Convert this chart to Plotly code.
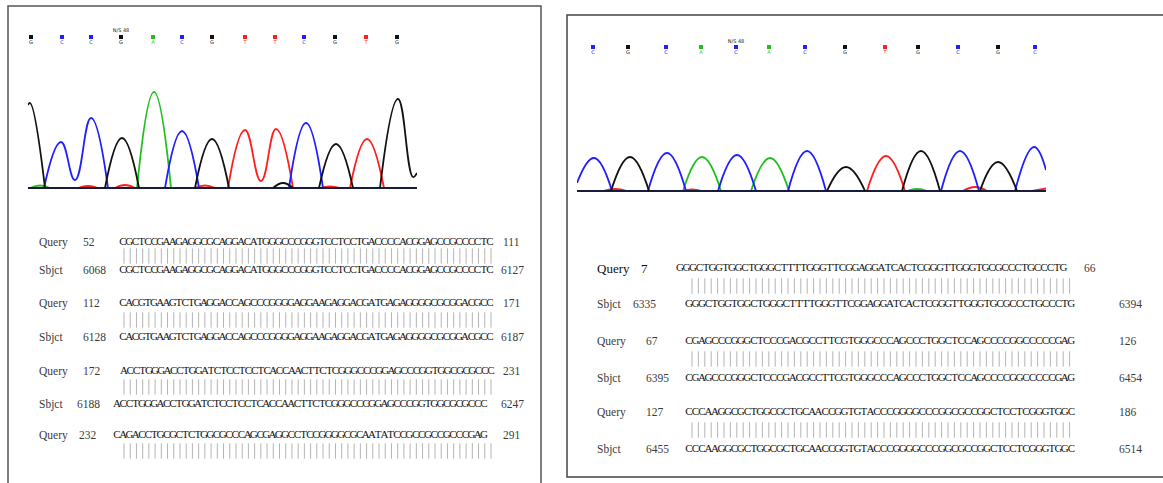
import plotly.graph_objects as go

W, H = 1163, 483

# ---------------- data ----------------
# base calls above the traces
left_calls = list("GCCGACGTTCGTG")
left_call_scan = [3, 34, 63, 93, 125, 154, 184, 217, 247, 276, 307, 338, 369]
right_calls = list("CGCACACGTGCGC")
right_call_scan = [16, 51, 89, 124, 159, 192, 228, 268, 308, 341, 381, 421, 458]

# left chromatogram, per channel: segments of (scan, intensity)
left_G_scan = [[0, 2, 17], [77, 94, 111], [167, 184, 201], [291, 308, 325], [352, 370, 385, 389], [245, 255, 265]]
left_G_int = [[830, 850, 0], [0, 500, 0], [0, 490, 0], [0, 440, 0], [0, 890, 110, 150], [0, 50, 0]]
left_C_scan = [[16, 33, 47, 63, 80], [137, 154, 171], [261, 278, 295]]
left_C_int = [[0, 460, 80, 700, 0], [0, 570, 0], [0, 650, 0]]
left_A_scan = [[109, 126, 143], [2, 12, 22]]
left_A_int = [[0, 960, 0], [0, 25, 0]]
left_T_scan = [[200, 217, 233, 248, 265], [322, 339, 356], [50, 60, 70], [87, 97, 107], [167, 177, 187], [292, 302, 312]]
left_T_int = [[0, 580, 70, 590, 0], [0, 490, 0], [0, 20, 0], [0, 30, 0], [0, 25, 0], [0, 15, 0]]

# right chromatogram
right_C_scan = [[0, 17, 35], [71, 90, 109], [141, 160, 179], [211, 230, 249], [364, 383, 402], [438, 457, 469]]
right_C_int = [[80, 330, 0], [0, 380, 0], [0, 360, 0], [0, 400, 0], [0, 400, 0], [0, 440, 210]]
right_G_scan = [[34, 53, 72], [250, 269, 288], [325, 344, 363], [403, 421, 440]]
right_G_int = [[0, 340, 0], [0, 240, 0], [0, 400, 0], [0, 290, 0]]
right_A_scan = [[106, 125, 144], [174, 193, 212], [330, 340, 350]]
right_A_int = [[0, 340, 0], [0, 330, 0], [0, 20, 0]]
right_T_scan = [[290, 309, 328], [26, 38, 50], [105, 115, 125], [386, 398, 410], [455, 469]]
right_T_int = [[0, 350, 0], [0, 20, 0], [0, 15, 0], [0, 40, 0], [0, 25]]

# alignment text
left_query_seqs = [
    "CGCTCCGAAGAGGCGCAGGACATGGGCCCGGGTCCTCCTGACCCCACGGAGCCGCCCCTC",
    "CACGTGAAGTCTGAGGACCAGCCCGGGGAGGAAGAGGACGATGAGAGGGGCGCGGACGCC",
    "ACCTGGGACCTGGATCTCCTCCTCACCAACTTCTCGGGCCCGGAGCCCGGTGGCGCGCCC",
    "CAGACCTGCGCTCTGGCGCCCAGCGAGGCCTCCGGGGCGCAATATCCGCCGCCGCCCGAG",
]
left_query_start = [52, 112, 172, 232]
left_query_end = [111, 171, 231, 291]
left_sbjct_start = [6068, 6128, 6188]
left_sbjct_end = [6127, 6187, 6247]

right_query_seqs = [
    "GGGCTGGTGGCTGGGCTTTTGGGTTCGGAGGATCACTCGGGTTGGGTGCGCCCTGCCCTG",
    "CGAGCCCGGGCTCCCGACGCCTTCGTGGGCCCAGCCCTGGCTCCAGCCCCGGCCCCCGAG",
    "CCCAAGGCGCTGGCGCTGCAACCGGTGTACCCGGGGCCCGGCGCCGGCTCCTCGGGTGGC",
]
right_query_start = [7, 67, 127]
right_query_end = [66, 126, 186]
right_sbjct_start = [6335, 6395, 6455]
right_sbjct_end = [6394, 6454, 6514]

# ---------------- styling ----------------
COL = {"G": "#111111", "C": "#1f1fff", "A": "#1fbf1f", "T": "#ff1f1f"}
SEQ_FONT = "Liberation Serif"

fig = go.Figure()


def segs(scans, ints):
    xs, ys = [], []
    for s, v in zip(scans, ints):
        xs += s + [None]
        ys += v + [None]
    return xs, ys


def add_channel(scans, ints, color, xa, ya, xmax):
    fig.add_trace(go.Scatter(x=[0, xmax], y=[0, 0], mode="lines", line=dict(color=color, width=1.3),
                             xaxis=xa, yaxis=ya, hoverinfo="skip", showlegend=False))
    xs, ys = segs(scans, ints)
    fig.add_trace(go.Scatter(x=xs, y=ys, mode="lines", line=dict(color=color, width=1.8, shape="spline", smoothing=1.3),
                             xaxis=xa, yaxis=ya, hoverinfo="skip", showlegend=False, connectgaps=False))


for base, sc, it in [("T", left_T_scan, left_T_int), ("A", left_A_scan, left_A_int),
                     ("C", left_C_scan, left_C_int), ("G", left_G_scan, left_G_int)]:
    add_channel(sc, it, COL[base], "x2", "y2", 389)
for base, sc, it in [("T", right_T_scan, right_T_int), ("A", right_A_scan, right_A_int),
                     ("C", right_C_scan, right_C_int), ("G", right_G_scan, right_G_int)]:
    add_channel(sc, it, COL[base], "x3", "y3", 469)


def add_calls(calls, scans, xa, ya, y_mark, y_letter, y_note, note_idx):
    cols = [COL[c] for c in calls]
    fig.add_trace(go.Scatter(x=scans, y=[y_mark] * len(scans), mode="markers",
                             marker=dict(symbol="square", size=4, color=cols, line=dict(width=0)),
                             xaxis=xa, yaxis=ya, cliponaxis=False, hoverinfo="skip", showlegend=False))
    fig.add_trace(go.Scatter(x=scans, y=[y_letter] * len(scans), mode="text", text=calls,
                             textfont=dict(size=5, color=cols, family="DejaVu Sans"),
                             xaxis=xa, yaxis=ya, cliponaxis=False, hoverinfo="skip", showlegend=False))
    fig.add_trace(go.Scatter(x=[scans[note_idx]], y=[y_note], mode="text", text=["N/S 48"],
                             textfont=dict(size=5, color="#222", family="DejaVu Sans"),
                             xaxis=xa, yaxis=ya, cliponaxis=False, hoverinfo="skip", showlegend=False))


add_calls(left_calls, left_call_scan, "x2", "y2", 1510, 1455, 1570, 3)
add_calls(right_calls, right_call_scan, "x3", "y3", 1440, 1385, 1490, 4)

# ---------------- alignment text ----------------
seq_pts = {"x": [], "y": [], "t": []}


def put_seq(x0, y, s, pitch):
    for i, ch in enumerate(s):
        seq_pts["x"].append(x0 + i * pitch)
        seq_pts["y"].append(y)
        seq_pts["t"].append(ch)


bars = {"x": [], "y": []}


def put_bars(x0, y, n, pitch):
    for i in range(n):
        bars["x"].append(x0 + i * pitch)
        bars["y"].append(y)


labels = []


def put_label(x, y, s, size=11.5, color="#3a3a3a"):
    labels.append((x, y, s, size, color))


LP = 6.22
left_rows_y_q = [242, 303, 371, 435]
left_rows_y_s = [270, 337, 404]
left_bar_y = [256, 320, 387, 451]
left_num_x_q = [82, 82, 82, 78]
left_seq_x_q = [123, 123, 124, 117]
left_num_x_s = [82, 82, 76]
left_seq_x_s = [123, 123, 117]

for i, seq in enumerate(left_query_seqs):
    put_label(38, left_rows_y_q[i], "Query")
    put_label(left_num_x_q[i], left_rows_y_q[i], str(left_query_start[i]))
    put_seq(left_seq_x_q[i], left_rows_y_q[i], seq, LP)
    put_label(502, left_rows_y_q[i], str(left_query_end[i]))
    put_bars(124, left_bar_y[i], len(seq), 6.22)
    if i < len(left_sbjct_start):
        put_label(38, left_rows_y_s[i], "Sbjct")
        put_label(left_num_x_s[i], left_rows_y_s[i], str(left_sbjct_start[i]))
        put_seq(left_seq_x_s[i], left_rows_y_s[i], seq, LP)
        put_label(500, left_rows_y_s[i], str(left_sbjct_end[i]))

RP = 6.48
right_rows_y_q = [268, 341, 412]
right_rows_y_s = [304, 378, 449]
right_bar_y = [286, 359, 430]
right_num_x_s = [632, 645, 645]
for i, seq in enumerate(right_query_seqs):
    if i == 0:
        put_label(596, right_rows_y_q[i], "Query", 13, "#111")
        put_label(640, right_rows_y_q[i], str(right_query_start[i]), 13, "#111")
        put_seq(680, right_rows_y_q[i], seq, 6.5)
        put_label(1083, right_rows_y_q[i], str(right_query_end[i]))
    else:
        put_label(596, right_rows_y_q[i], "Query")
        put_label(645, right_rows_y_q[i], str(right_query_start[i]))
        put_seq(689, right_rows_y_q[i], seq, RP)
        put_label(1118, right_rows_y_q[i], str(right_query_end[i]))
    put_bars(692, right_bar_y[i], len(seq), 6.4)
    put_label(596, right_rows_y_s[i], "Sbjct")
    put_label(right_num_x_s[i], right_rows_y_s[i], str(right_sbjct_start[i]))
    put_seq(689, right_rows_y_s[i], seq, RP)
    put_label(1118, right_rows_y_s[i], str(right_sbjct_end[i]))

fig.add_trace(go.Scatter(x=bars["x"], y=bars["y"], mode="markers",
                         marker=dict(symbol="line-ns", size=11, line=dict(width=1, color="#b4b4b4")),
                         xaxis="x", yaxis="y", hoverinfo="skip", showlegend=False))
fig.add_trace(go.Scatter(x=seq_pts["x"], y=seq_pts["y"], mode="text", text=seq_pts["t"],
                         textposition="middle center",
                         textfont=dict(family=SEQ_FONT, size=11, color="#111"),
                         xaxis="x", yaxis="y", hoverinfo="skip", showlegend=False, cliponaxis=False))
for (x, y, s, size, color) in labels:
    fig.add_annotation(x=x, y=y, text=s, showarrow=False, xref="x", yref="y",
                       xanchor="left", yanchor="middle", borderpad=0,
                       font=dict(family=SEQ_FONT, size=size, color=color))

# panel frames
fig.add_shape(type="rect", xref="x", yref="y", x0=8, y0=6, x1=541, y1=495,
              line=dict(color="#555", width=1.5), fillcolor="rgba(0,0,0,0)")
fig.add_shape(type="rect", xref="x", yref="y", x0=567, y0=15, x1=1175, y1=477,
              line=dict(color="#444", width=1.5), fillcolor="rgba(0,0,0,0)")

hid = dict(visible=False, showgrid=False, zeroline=False, fixedrange=True)
fig.update_layout(
    width=W, height=H, margin=dict(l=0, r=0, t=0, b=0),
    paper_bgcolor="white", plot_bgcolor="rgba(0,0,0,0)",
    xaxis=dict(domain=[0, 1], range=[0, W], **hid),
    yaxis=dict(domain=[0, 1], range=[H, 0], **hid),
    xaxis2=dict(domain=[28 / W, 417 / W], range=[0, 389], anchor="y2", **hid),
    yaxis2=dict(domain=[(H - 190) / H, (H - 25) / H], range=[-20, 1630], anchor="x2", **hid),
    xaxis3=dict(domain=[577 / W, 1046 / W], range=[0, 469], anchor="y3", **hid),
    yaxis3=dict(domain=[(H - 193) / H, (H - 35) / H], range=[-20, 1560], anchor="x3", **hid),
    showlegend=False,
)

fig.write_html("out.html", config={"displayModeBar": False, "staticPlot": True},
               post_script="document.body.style.margin='0px';")
